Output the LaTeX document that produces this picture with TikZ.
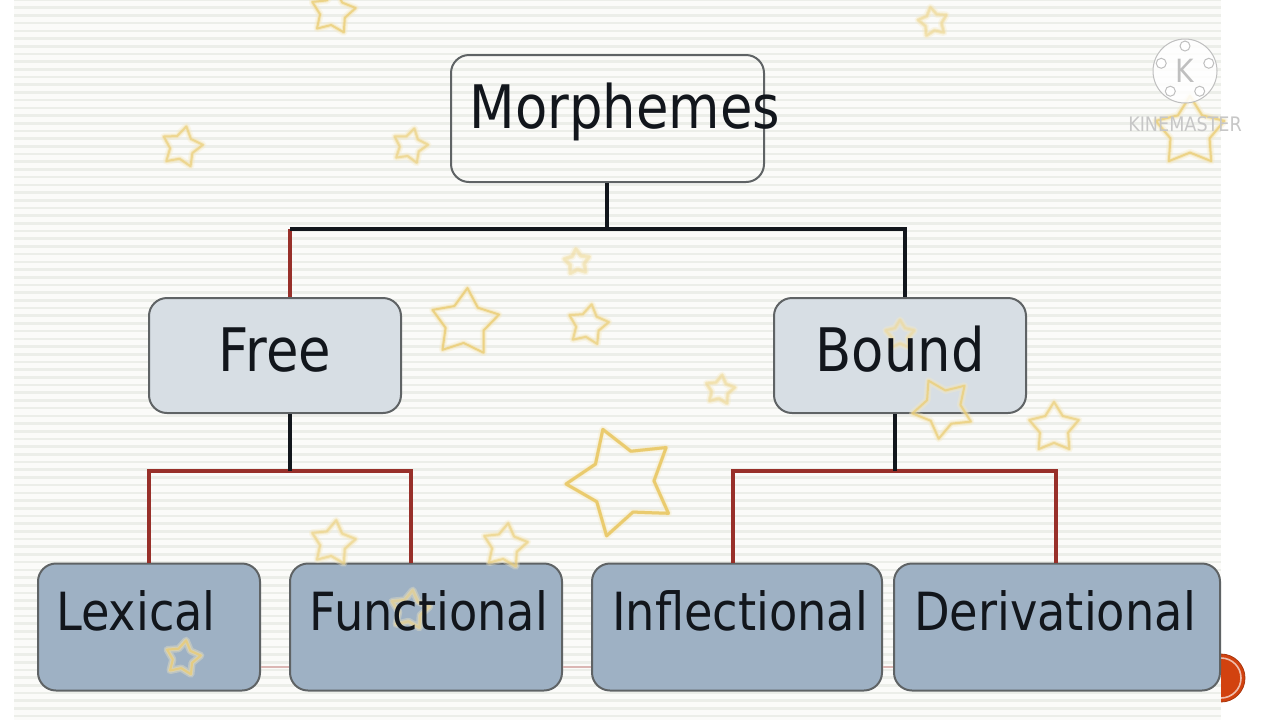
\documentclass[tikz,border=0pt]{standalone}
\usepackage{fontspec}
\setmainfont{DejaVu Sans}[FakeStretch=0.88]
\usetikzlibrary{shapes.geometric}

\definecolor{stripe}{HTML}{ECEEE9}
\definecolor{panel}{HTML}{FBFBF9}
\definecolor{midbox}{HTML}{D7DEE4}
\definecolor{leafbox}{HTML}{9EB1C4}
\definecolor{boxline}{HTML}{5F6365}
\definecolor{busred}{HTML}{98302A}
\definecolor{gold}{HTML}{E6C255}
\definecolor{badge}{HTML}{D2420F}
\definecolor{ink}{HTML}{12161C}

\tikzset{
    box/.style = {draw=boxline, line width=1pt, rounded corners=9pt, inner sep=0pt},
    rootbox/.style = {box, minimum width=156.5pt, minimum height=63.5pt},
    midnode/.style = {box, fill=midbox, minimum width=126pt, minimum height=57.5pt},
    leaf/.style = {box, fill=leafbox, minimum height=63.5pt},
    word/.style = {anchor=base, inner sep=0pt, text=ink},
    blackline/.style = {draw=ink, line width=1.6pt},
    redline/.style = {draw=busred, line width=1.6pt},
    goldstar/.style = {star, star points=5, star point ratio=1.75, inner sep=0pt, line join=round,
        draw=gold!85, line width=1pt,
        preaction={draw=gold!60, line width=2pt, draw opacity=0.5},
        preaction={draw=gold!35, line width=3.6pt, draw opacity=0.35}},
    logoline/.style = {draw=black!25, line width=0.5pt}
}

\begin{document}
\begin{tikzpicture}[x=0.5pt, y=-0.5pt]
    \useasboundingbox (0,0) rectangle (1280,720);

    % striped slide
    \fill[white] (0,0) rectangle (1280,720);
    \fill[panel] (14,0) rectangle (1221,720);
    \foreach \yy in {0,7.7,...,720}
        \draw[stripe, line width=1.3pt] (14,\yy) -- (1221,\yy);

    % badge behind the slide edge
    \begin{scope}
        \clip (1221,640) rectangle (1280,710);
        \node[circle, fill=badge, draw=badge!80!black, line width=0.4pt, minimum size=24pt, inner sep=0pt] (n_badge) at (1221,678) {};
        \node[circle, draw=white!65!badge, line width=0.8pt, minimum size=20pt, inner sep=0pt] (n_ring) at (n_badge.center) {};
    \end{scope}

    \node[rootbox] (n_root) at (607.5,118.5) {};
    \node[midnode] (n_free) at (275,355.5) {};
    \node[midnode] (n_bound) at (900,355.5) {};
    \node[leaf, minimum width=111pt] (n_lex) at (149,627) {};
    \node[leaf, minimum width=136pt] (n_fun) at (426,627) {};
    \node[leaf, minimum width=145pt] (n_inf) at (737,627) {};
    \node[leaf, minimum width=163pt] (n_der) at (1057,627) {};

    % junctions
    \coordinate (c_top) at (607,229);
    \coordinate (c_topl) at (290,229);
    \coordinate (c_topr) at (905,229);
    \coordinate (c_free) at (290,471);
    \coordinate (c_freel) at (149,471);
    \coordinate (c_freer) at (411,471);
    \coordinate (c_bound) at (895,471);
    \coordinate (c_boundl) at (733,471);
    \coordinate (c_boundr) at (1056,471);

    \draw[draw=busred!35, line width=0.6pt] (n_lex.east |- 0,667) -- (n_fun.west |- 0,667);
    \draw[draw=busred!35, line width=0.6pt] (n_fun.east |- 0,667) -- (n_inf.west |- 0,667);
    \draw[draw=busred!35, line width=0.6pt] (n_inf.east |- 0,667) -- (n_der.west |- 0,667);

    \draw[redline] (c_topl) -- (n_free.north -| c_topl);
    \draw[blackline] (n_root.south -| c_top) -- (c_top);
    \draw[blackline] (c_topl) -- (c_topr) -- (n_bound.north -| c_topr);

    \draw[redline] (n_lex.north -| c_freel) -- (c_freel) -- (c_freer) -- (n_fun.north -| c_freer);
    \draw[blackline] (n_free.south -| c_free) -- (c_free);

    \draw[redline] (n_inf.north -| c_boundl) -- (c_boundl) -- (c_boundr) -- (n_der.north -| c_boundr);
    \draw[blackline] (n_bound.south -| c_bound) -- (c_bound);

    % stars
    \foreach \sx/\sy/\sr/\rot/\op [count=\i] in {
        333/12/46/-8/0.7, 933/22/30/10/0.3, 182/147/42/-12/0.6, 410/146/36/-14/0.5,
        1190/132/72/0/0.7, 577/262/26/5/0.12, 465/323/70/-4/0.75, 588/325/42/-10/0.6,
        720/390/30/-8/0.25, 900/335/30/0/0.2, 943/408/62/28/0.65, 1054/428/52/0/0.6,
        333/543/46/-8/0.45, 505/546/46/-8/0.5, 410/610/40/-8/0.35, 183/658/36/-10/0.7}
        \node[goldstar, opacity=\op, minimum size=\sr*0.5pt, rotate=\rot] (s_\i) at (\sx,\sy) {};
    \node[goldstar, line width=1.5pt, minimum size=56pt, rotate=20] (s_big) at (622,482) {};

    % labels
    \node[word, font=\fontsize{30}{30}\selectfont] (t_root) at (625,128) {Morphemes};
    \node[word, font=\fontsize{30}{30}\selectfont] (t_free) at (275,371) {Free};
    \node[word, font=\fontsize{30}{30}\selectfont] (t_bound) at (900,371) {Bound};
    \node[word, font=\fontsize{26.3}{26.3}\selectfont] (t_lex) at (136,630) {Lexical};
    \node[word, font=\fontsize{26.3}{26.3}\selectfont] (t_fun) at (429,630) {Functional};
    \node[word, font=\fontsize{26.3}{26.3}\selectfont] (t_inf) at (740,630) {Inflectional};
    \node[word, font=\fontsize{26.3}{26.3}\selectfont] (t_der) at (1055,630) {Derivational};

    % watermark
    \node[circle, fill=white, fill opacity=0.85, logoline, minimum size=32pt, inner sep=0pt] (n_logo) at (1185,71) {};
    \foreach \ang [count=\i] in {90,162,234,306,18}
        \node[circle, fill=white, logoline, minimum size=5pt, inner sep=0pt] (n_hole\i) at ([shift={(\ang:12.5pt)}]n_logo.center) {};
    \node[inner sep=0pt, text=black!25, font=\fontsize{16}{16}\selectfont] (t_k) at (n_logo.center) {K};
    \node[inner sep=0pt, text=black!22, font=\fontsize{10}{10}\selectfont] (t_kine) at (1185,124) {KINEMASTER};
\end{tikzpicture}
\end{document}
